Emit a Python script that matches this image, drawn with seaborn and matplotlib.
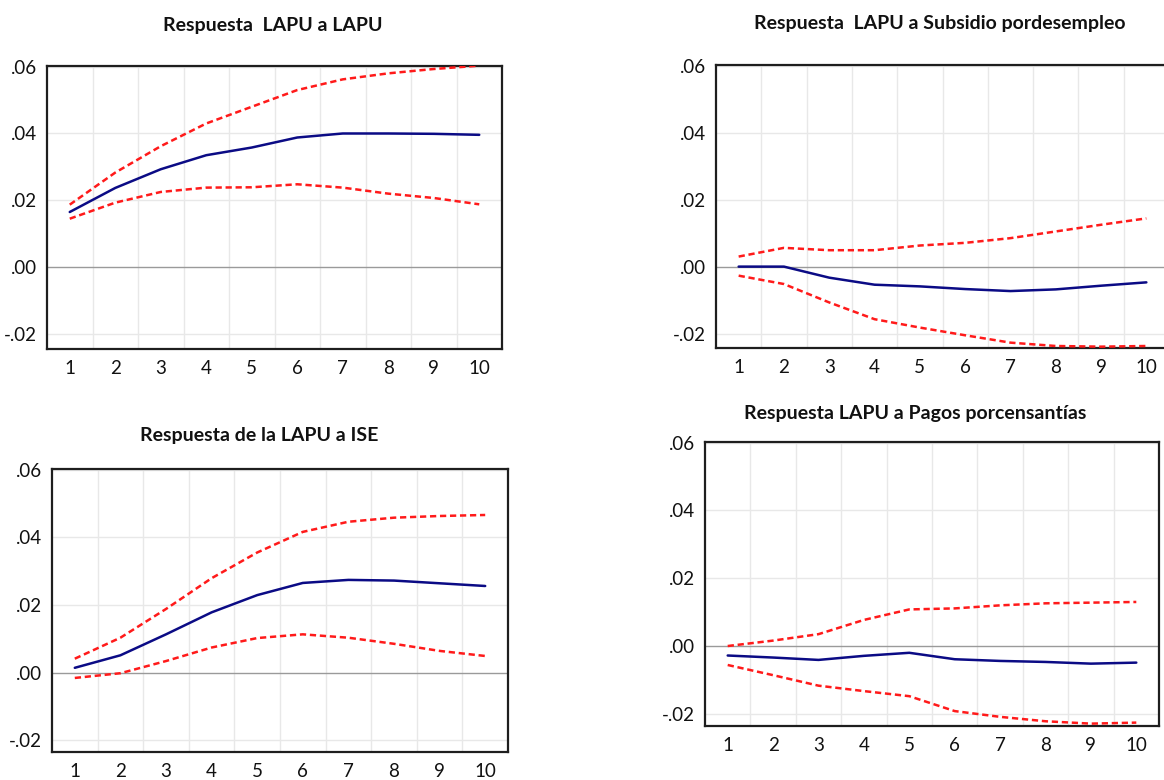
import numpy as np
import pandas as pd
import matplotlib
matplotlib.use("Agg")
import matplotlib.pyplot as plt
from matplotlib.ticker import FixedLocator, FuncFormatter
import seaborn as sns

# Horizon (periods after the shock)
periods = [1, 2, 3, 4, 5, 6, 7, 8, 9, 10]

# Respuesta LAPU a LAPU
lapu_resp = [0.0165, 0.0237, 0.0293, 0.0335, 0.0358, 0.0388, 0.0400, 0.0400, 0.0399, 0.0396]
lapu_up = [0.0187, 0.0283, 0.0362, 0.0430, 0.0480, 0.0530, 0.0562, 0.0580, 0.0593, 0.0603]
lapu_lo = [0.0145, 0.0193, 0.0225, 0.0238, 0.0239, 0.0248, 0.0238, 0.0220, 0.0207, 0.0188]

# Respuesta LAPU a Subsidio por desempleo
subs_resp = [0.0000, 0.0000, -0.0033, -0.0054, -0.0059, -0.0067, -0.0073, -0.0068, -0.0057, -0.0047]
subs_up = [0.0030, 0.0056, 0.0049, 0.0049, 0.0063, 0.0071, 0.0085, 0.0105, 0.0125, 0.0144]
subs_lo = [-0.0027, -0.0052, -0.0107, -0.0157, -0.0182, -0.0205, -0.0227, -0.0237, -0.0239, -0.0237]

# Respuesta de la LAPU a ISE
ise_resp = [0.0014, 0.0051, 0.0113, 0.0178, 0.0229, 0.0265, 0.0274, 0.0272, 0.0264, 0.0256]
ise_up = [0.0041, 0.0103, 0.0188, 0.0279, 0.0355, 0.0416, 0.0446, 0.0458, 0.0463, 0.0466]
ise_lo = [-0.0016, -0.0002, 0.0034, 0.0074, 0.0102, 0.0113, 0.0103, 0.0085, 0.0064, 0.0049]

# Respuesta LAPU a Pagos por cesantías
ces_resp = [-0.0028, -0.0034, -0.0041, -0.0029, -0.0020, -0.0039, -0.0044, -0.0047, -0.0052, -0.0049]
ces_up = [0.0000, 0.0016, 0.0035, 0.0077, 0.0108, 0.0111, 0.0120, 0.0126, 0.0128, 0.0130]
ces_lo = [-0.0056, -0.0086, -0.0117, -0.0133, -0.0148, -0.0192, -0.0209, -0.0222, -0.0229, -0.0226]

titles = [
    "Respuesta  LAPU a LAPU",
    "Respuesta  LAPU a Subsidio pordesempleo",
    "Respuesta de la LAPU a ISE",
    "Respuesta LAPU a Pagos porcensantías",
]
y_ticks = [-0.02, 0.00, 0.02, 0.04, 0.06]

sns.set_style("white")
plt.rcParams["font.family"] = ["Lato", "DejaVu Sans"]

W, H = 1164, 780
fig = plt.figure(figsize=(W / 100, H / 100), dpi=100)


def box(left, top, right, bottom):
    return [left / W, 1 - bottom / H, (right - left) / W, (bottom - top) / H]


panels = [
    dict(rect=box(47, 66, 502, 349), title_xy=(273, 25),
         data=(lapu_resp, lapu_up, lapu_lo), ylim=(-0.0245, 0.0602)),
    dict(rect=box(716, 65, 1169, 348), title_xy=(940, 24),
         data=(subs_resp, subs_up, subs_lo), ylim=(-0.0243, 0.0602)),
    dict(rect=box(52, 469, 508, 752), title_xy=(259, 435),
         data=(ise_resp, ise_up, ise_lo), ylim=(-0.0235, 0.0602)),
    dict(rect=box(705, 442, 1159, 726), title_xy=(915, 413),
         data=(ces_resp, ces_up, ces_lo), ylim=(-0.0236, 0.0602)),
]

fmt = FuncFormatter(lambda v, _: ("-" if v < -1e-9 else "") + f"{abs(v):.2f}".lstrip("0"))

for p, title in zip(panels, titles):
    ax = fig.add_axes(p["rect"])
    resp, up, lo = p["data"]
    df = pd.DataFrame({
        "periodo": periods * 3,
        "valor": resp + up + lo,
        "serie": ["resp"] * 10 + ["sup"] * 10 + ["inf"] * 10,
    })
    # grid at half periods and y ticks
    for xg in np.arange(1.5, 10.0, 1.0):
        ax.axvline(xg, color="#e8e8e8", lw=1.0, zorder=0)
    for yg in y_ticks:
        if abs(yg) > 1e-9:
            ax.axhline(yg, color="#e8e8e8", lw=1.0, zorder=0)
    ax.axhline(0, color="#9a9a9a", lw=1.0, zorder=1)

    sns.lineplot(data=df[df.serie == "resp"], x="periodo", y="valor", ax=ax,
                 color="#0b0b85", lw=1.8, zorder=3)
    for s in ("sup", "inf"):
        sns.lineplot(data=df[df.serie == s], x="periodo", y="valor", ax=ax,
                     color="#ff1a1a", lw=1.8, dashes=False, zorder=3,
                     linestyle=(0, (2.5, 1.5)))

    ax.set_xlim(0.5, 10.5)
    ax.set_ylim(*p["ylim"])
    ax.xaxis.set_major_locator(FixedLocator(periods))
    ax.yaxis.set_major_locator(FixedLocator(y_ticks))
    ax.yaxis.set_major_formatter(fmt)
    ax.set_xlabel("")
    ax.set_ylabel("")
    ax.tick_params(length=0, labelsize=13.5, colors="#111111")
    ax.tick_params(axis="y", pad=7)
    ax.tick_params(axis="x", pad=8)
    for sp in ax.spines.values():
        sp.set_visible(True)
        sp.set_color("#1e1e1e")
        sp.set_linewidth(1.6)
    tx, ty = p["title_xy"]
    fig.text(tx / W, 1 - ty / H, title, ha="center", va="center",
             fontsize=14, fontweight="bold", color="#111111")

fig.savefig("out.png", dpi=100)
